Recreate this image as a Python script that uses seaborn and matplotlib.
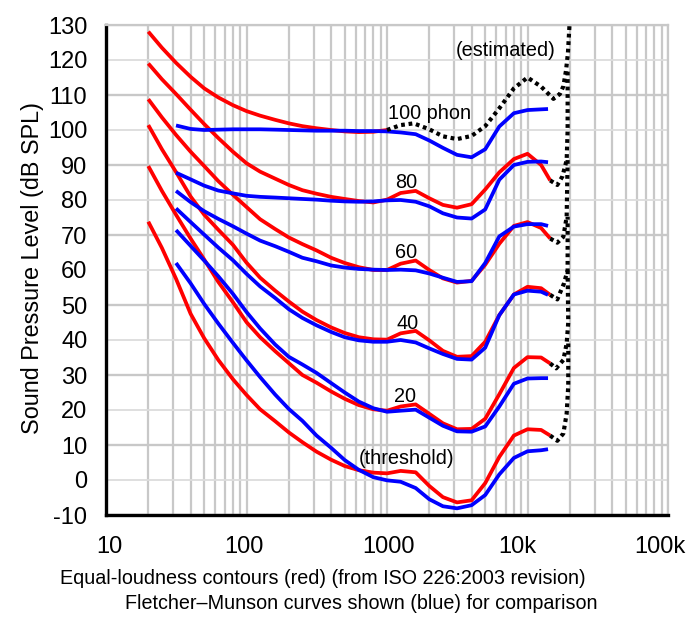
import matplotlib
matplotlib.use("Agg")
import matplotlib.pyplot as plt
import matplotlib.transforms as mtransforms
from matplotlib.ticker import FixedLocator, FixedFormatter, NullFormatter
import seaborn as sns

# ---------------- data ----------------
red_freqs = [20, 25, 31.5, 40, 50, 63, 80, 100, 125, 160, 200, 250, 315, 400, 500,
             630, 800, 1000, 1250, 1600, 2000, 2500, 3150, 4000, 5000, 6300, 8000,
             10000, 12500, 14500]
red_freqs_100 = [20, 25, 31.5, 40, 50, 63, 80, 100, 125, 160, 200, 250, 315, 400,
                 500, 630, 800, 1000]
blue_freqs = [31.5, 40, 50, 63, 80, 100, 125, 160, 200, 250, 315, 400, 500, 630,
              800, 1000, 1250, 1600, 2000, 2500, 3150, 4000, 5000, 6300, 8000,
              10000, 12500, 14000]

red_100 = [128.1, 123.5, 119.2, 115.2, 111.9, 109.3, 107.1, 105.4, 104.1, 102.9,
           101.9, 101.1, 100.5, 100.0, 99.6, 99.4, 99.5, 100.0]
red_80 = [119.0, 114.5, 110.3, 105.8, 101.7, 97.7, 93.8, 90.5, 88.1, 86.1,
          84.3, 82.8, 81.8, 80.9, 80.3, 79.7, 79.3, 80.1, 82.0, 82.6,
          80.5, 78.6, 77.8, 78.8, 83.0, 87.9, 91.7, 93.2, 90.0, 85.6]
red_60 = [108.8, 103.6, 98.6, 93.8, 89.7, 85.4, 81.5, 78.0, 74.5, 71.7,
          69.3, 67.4, 65.6, 63.5, 62.0, 60.8, 60.0, 60.0, 61.8, 62.7,
          60.0, 57.6, 56.4, 56.9, 61.5, 67.5, 72.6, 73.7, 72.0, 69.0]
red_40 = [101.4, 94.5, 88.0, 81.0, 75.8, 71.5, 67.2, 62.1, 57.8, 54.1,
          51.0, 48.1, 45.7, 43.6, 42.0, 40.8, 40.2, 40.1, 41.9, 42.6,
          39.9, 36.9, 35.2, 35.4, 39.5, 47.1, 53.0, 55.2, 54.8, 52.9]
red_20 = [89.7, 82.6, 75.8, 69.0, 63.0, 56.6, 50.8, 45.1, 40.8, 36.8,
          33.4, 30.0, 27.8, 25.3, 23.2, 21.4, 20.2, 19.8, 21.0, 21.6,
          18.9, 16.2, 14.5, 14.6, 17.5, 24.5, 32.0, 35.1, 35.0, 33.3]
red_thr = [73.8, 66.3, 57.5, 47.5, 40.5, 34.3, 28.8, 24.3, 20.2, 16.8,
           13.6, 10.8, 8.1, 5.8, 4.0, 2.8, 2.1, 1.9, 2.6, 2.2,
           -1.7, -4.9, -6.4, -5.8, -0.9, 6.6, 12.7, 14.5, 14.3, 12.7]

blue_100 = [101.3, 100.3, 100.0, 100.1, 100.2, 100.2, 100.2, 100.1, 100.0, 99.9,
            99.8, 99.8, 99.8, 99.7, 99.7, 99.6, 99.3, 98.8, 97.0, 94.9,
            92.9, 92.2, 94.5, 101.0, 104.8, 105.7, 105.9, 106.0]
blue_80 = [87.8, 85.9, 84.1, 82.7, 81.9, 81.2, 80.9, 80.7, 80.5, 80.3,
           80.1, 79.8, 79.6, 79.5, 79.6, 79.9, 80.0, 79.5, 78.2, 76.2,
           75.0, 74.7, 77.3, 85.8, 90.0, 90.9, 91.0, 90.8]
blue_60 = [82.6, 79.4, 76.8, 74.6, 72.5, 70.4, 68.4, 66.8, 65.2, 63.5,
           62.5, 61.3, 60.7, 60.3, 60.1, 60.0, 60.1, 59.9, 59.0, 57.8,
           56.6, 56.8, 62.0, 69.6, 72.4, 73.1, 73.1, 72.6]
blue_40 = [77.6, 73.7, 70.1, 66.4, 62.8, 58.9, 55.3, 52.0, 48.8, 46.3,
           44.2, 42.3, 40.8, 39.9, 39.5, 39.5, 40.0, 39.3, 37.6, 36.0,
           34.6, 34.4, 37.8, 47.1, 53.0, 54.1, 53.8, 52.9]
blue_20 = [71.4, 66.9, 62.7, 58.2, 53.2, 48.0, 43.3, 38.7, 35.2, 33.0,
           30.6, 27.7, 25.0, 22.4, 20.5, 19.5, 19.8, 20.1, 17.8, 15.5,
           13.9, 13.8, 15.3, 21.0, 27.5, 29.0, 29.1, 29.1]
blue_thr = [62.0, 56.2, 50.3, 44.7, 39.2, 34.2, 29.4, 24.4, 20.3, 16.9,
            12.7, 9.2, 5.7, 2.9, 0.8, -0.1, -0.5, -2.3, -5.5, -7.5,
            -8.1, -7.2, -4.3, 1.6, 6.3, 8.2, 8.5, 8.8]

# dotted "estimated" extensions
ext100_f = [1000, 1250, 1550, 2000, 2500, 3150, 4000, 5000, 6300, 8000, 10000,
            12500, 15300, 17000, 18000, 18800, 19400, 19900]
ext100_db = [100.0, 101.4, 101.9, 100.2, 98.2, 97.4, 98.3, 101.1, 106.2, 111.9,
             115.0, 112.4, 108.9, 110.3, 112.5, 117.0, 122.0, 130.0]
ext80_f = [14500, 16300, 17700, 19000, 19300, 19300]
ext80_db = [85.6, 84.3, 86.7, 91.4, 100.0, 117.0]
ext60_f = [14500, 16300, 18000, 19000, 19300]
ext60_db = [69.0, 67.8, 69.5, 75.2, 91.4]
ext40_f = [14500, 16300, 18200, 19300, 19300]
ext40_db = [52.9, 51.6, 56.2, 60.0, 75.2]
ext20_f = [14500, 16000, 18000, 19000, 19500, 19300]
ext20_db = [33.3, 31.9, 34.3, 39.0, 45.0, 60.0]
extthr_f = [14500, 16300, 18000, 19000, 19500, 19500]
extthr_db = [12.7, 11.2, 13.3, 19.0, 27.0, 39.0]

x_tick_vals = [10, 100, 1000, 10000, 100000]
x_tick_labels = ["10", "100", "1000", "10k", "100k"]
y_major_vals = [-10, 10, 30, 50, 70, 90, 110, 130]
y_minor_vals = [0, 20, 40, 60, 80, 100, 120]

labels = ["100 phon", "80", "60", "40", "20", "(threshold)", "(estimated)"]
label_f = [2014, 1371, 1375, 1400, 1345, 1380, 7050]
label_db = [103.2, 83.3, 63.3, 43.1, 22.3, 4.7, 121.0]

# ---------------- style ----------------
sns.set_style("white")
plt.rcParams["font.family"] = ["Liberation Sans", "DejaVu Sans"]

W, H = 690, 627
fig = plt.figure(figsize=(W / 100, H / 100), dpi=100)
ax = fig.add_axes([106 / W, 1 - 515 / H, 562 / W, 490 / H])
ax.set_xscale("log")

LW = 2.7
red_sets = [(red_freqs_100, red_100), (red_freqs, red_80), (red_freqs, red_60),
            (red_freqs, red_40), (red_freqs, red_20), (red_freqs, red_thr)]
for fx, dy in red_sets:
    sns.lineplot(x=fx, y=dy, ax=ax, color="#ff0000", linewidth=LW, sort=False,
                 estimator=None, legend=False, zorder=3,
                 solid_joinstyle="round", solid_capstyle="butt")

for dy in [blue_100, blue_80, blue_60, blue_40, blue_20, blue_thr]:
    sns.lineplot(x=blue_freqs, y=dy, ax=ax, color="#0000ff", linewidth=LW,
                 sort=False, estimator=None, legend=False, zorder=4,
                 solid_joinstyle="round", solid_capstyle="butt")

for fx, dy in [(ext100_f, ext100_db), (ext80_f, ext80_db), (ext60_f, ext60_db),
               (ext40_f, ext40_db), (ext20_f, ext20_db), (extthr_f, extthr_db)]:
    sns.lineplot(x=fx, y=dy, ax=ax, color="black", linewidth=3.0, sort=False,
                 estimator=None, legend=False, zorder=5,
                 linestyle=(0, (0.9, 0.9)), dash_capstyle="butt")

for t, fx, dy in zip(labels, label_f, label_db):
    ax.text(fx, dy, t, ha="center", va="baseline", fontsize=14.3, color="black",
            zorder=6)

ax.set_xlim(10, 100000)
ax.set_ylim(-10, 130)

# grid
ax.xaxis.set_major_locator(FixedLocator(x_tick_vals))
ax.xaxis.set_major_formatter(FixedFormatter(x_tick_labels))
minor_x = [m * 10 ** e for e in range(1, 5) for m in range(2, 10)]
ax.xaxis.set_minor_locator(FixedLocator(minor_x))
ax.xaxis.set_minor_formatter(NullFormatter())
ax.yaxis.set_major_locator(FixedLocator(y_major_vals))
ax.yaxis.set_major_formatter(FixedFormatter([str(v) for v in y_major_vals]))
ax.yaxis.set_minor_locator(FixedLocator(y_minor_vals))
ax.yaxis.set_minor_formatter(FixedFormatter([str(v) for v in y_minor_vals]))

ax.set_axisbelow(True)
ax.grid(which="major", axis="x", color="#c8c8c8", linewidth=1.6)
ax.grid(which="minor", axis="x", color="#c8c8c8", linewidth=1.6)
ax.grid(which="major", axis="y", color="#c8c8c8", linewidth=1.7)
ax.grid(which="minor", axis="y", color="#dcdcdc", linewidth=1.3)

ax.tick_params(axis="both", which="both", length=0, labelsize=17, colors="black")
ax.tick_params(axis="y", which="both", pad=13.5)
ax.tick_params(axis="x", which="both", pad=15)

for side in ["left", "bottom"]:
    ax.spines[side].set_color("black")
    ax.spines[side].set_linewidth(2.4)
for side in ["top", "right"]:
    ax.spines[side].set_color("#c8c8c8")
    ax.spines[side].set_linewidth(1.6)
ax.set_xlabel("")
ax.set_ylabel("")

# small horizontal nudges of x tick labels (pixels)
x_offsets = [3, -3, 1, -10, -8]
for lab, dx in zip(ax.get_xticklabels(), x_offsets):
    lab.set_transform(lab.get_transform() +
                      mtransforms.ScaledTranslation(dx / 100, 0, fig.dpi_scale_trans))

fig.text(60 / W, 1 - 584 / H,
         "Equal-loudness contours (red) (from ISO 226:2003 revision)",
         ha="left", va="baseline", fontsize=14.2, color="black")
fig.text(125 / W, 1 - 609 / H,
         "Fletcher\u2013Munson curves shown (blue) for comparison",
         ha="left", va="baseline", fontsize=14.2, color="black")
fig.text(33 / W, 1 - 268 / H, "Sound Pressure Level (dB SPL)", rotation=90,
         ha="center", va="center", fontsize=16.8, color="black")

fig.savefig("out.png", dpi=100, facecolor="white")
